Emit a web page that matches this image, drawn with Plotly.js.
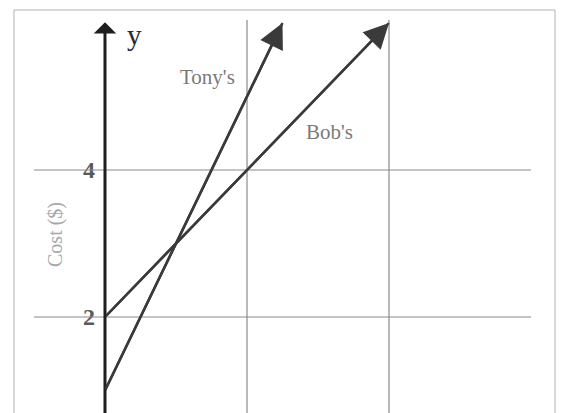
<!DOCTYPE html>
<html>
<head>
<meta charset="utf-8">
<script src="https://cdn.plot.ly/plotly-3.0.1.min.js"></script>
<style>html,body{margin:0;padding:0;background:#fff;}#chart{width:561px;height:413px;}</style>
</head>
<body>
<div id="chart"></div>
<script>
// Data
var tonyX = [0, 1.25];
var tonyY = [1, 6];
var bobX = [0, 2];
var bobY = [2, 6];
var tonyLabel = "Tony's";
var bobLabel = "Bob's";
var yTickVals = [2, 4];
var yTickText = ['2', '4'];
var xGridVals = [1, 2];
var yGridVals = [2, 4];
var yAxisLabel = 'Cost ($)';
var yAxisName = 'y';

var lineColor = '#3a3a3a';
var gridColor = '#8a8a8a';
var serif = '"Liberation Serif", "DejaVu Serif", serif';

var shapes = [];
// vertical grid lines
xGridVals.forEach(function (v) {
  shapes.push({type: 'line', xref: 'x', yref: 'y', x0: v, x1: v, y0: 0.5, y1: 6.04,
    line: {color: gridColor, width: 1.2}});
});
// horizontal grid lines
yGridVals.forEach(function (v) {
  shapes.push({type: 'line', xref: 'x', yref: 'y', x0: -0.5, x1: 3.0, y0: v, y1: v,
    line: {color: gridColor, width: 1.2}});
});
// outer frame (paper coords)
var frameL = 14 / 561, frameR = 555 / 561, frameT = 1 - 10 / 413;
shapes.push({type: 'line', xref: 'paper', yref: 'paper', x0: frameL, x1: frameL, y0: -0.05, y1: frameT, line: {color: '#b0b0b0', width: 1}});
shapes.push({type: 'line', xref: 'paper', yref: 'paper', x0: frameR, x1: frameR, y0: -0.05, y1: frameT, line: {color: '#b0b0b0', width: 1}});
shapes.push({type: 'line', xref: 'paper', yref: 'paper', x0: frameL, x1: frameR, y0: frameT, y1: frameT, line: {color: '#b0b0b0', width: 1}});

var traces = [
  {x: tonyX, y: tonyY, mode: 'lines', line: {color: lineColor, width: 2.5}, hoverinfo: 'skip', showlegend: false},
  {x: bobX, y: bobY, mode: 'lines', line: {color: lineColor, width: 2.5}, hoverinfo: 'skip', showlegend: false}
];

function arrowAnn(xs, ys, head, w, size, color) {
  return {x: xs[1], y: ys[1], ax: xs[0], ay: ys[0], xref: 'x', yref: 'y', axref: 'x', ayref: 'y',
    text: '', showarrow: true, arrowhead: head, arrowwidth: w, arrowsize: size, arrowcolor: color};
}

var annotations = [
  // y axis with arrow
  arrowAnn([0, 0], [0.5, 6.01], 1, 3, 1.25, '#1e1e1e'),
  arrowAnn(tonyX, tonyY, 2, 2.5, 2.0, lineColor),
  arrowAnn(bobX, bobY, 2, 2.5, 2.0, lineColor),
  {x: 0.21, y: 5.83, xref: 'x', yref: 'y', text: yAxisName, showarrow: false,
    font: {family: serif, size: 29, color: '#2a2a2a'}},
  {x: 0.725, y: 5.27, xref: 'x', yref: 'y', text: tonyLabel, showarrow: false,
    font: {family: serif, size: 21, color: '#7a7a7a'}},
  {x: 1.58, y: 4.52, xref: 'x', yref: 'y', text: bobLabel, showarrow: false,
    font: {family: serif, size: 21, color: '#7a7a7a'}},
  {x: -0.35, y: 3.12, xref: 'x', yref: 'y', text: yAxisLabel, showarrow: false, textangle: -90,
    font: {family: serif, size: 20, color: '#a8a8a8'}}
];

var layout = {
  width: 561, height: 413, autosize: false,
  margin: {l: 0, r: 0, t: 0, b: 0, pad: 0},
  paper_bgcolor: '#fff', plot_bgcolor: '#fff',
  showlegend: false,
  xaxis: {range: [-0.7394, 3.2113], visible: false, fixedrange: true},
  yaxis: {range: [0.6939, 6.3129], anchor: 'free', position: 105 / 561,
    tickvals: yTickVals, ticktext: yTickText, ticks: '', showgrid: false, zeroline: false, showline: false,
    ticklabelstandoff: 10,
    tickfont: {family: serif, size: 24, color: '#5a5a5a', weight: 'bold'}, fixedrange: true},
  shapes: shapes,
  annotations: annotations
};

Plotly.newPlot('chart', traces, layout, {displayModeBar: false, staticPlot: true});
</script>
</body>
</html>
